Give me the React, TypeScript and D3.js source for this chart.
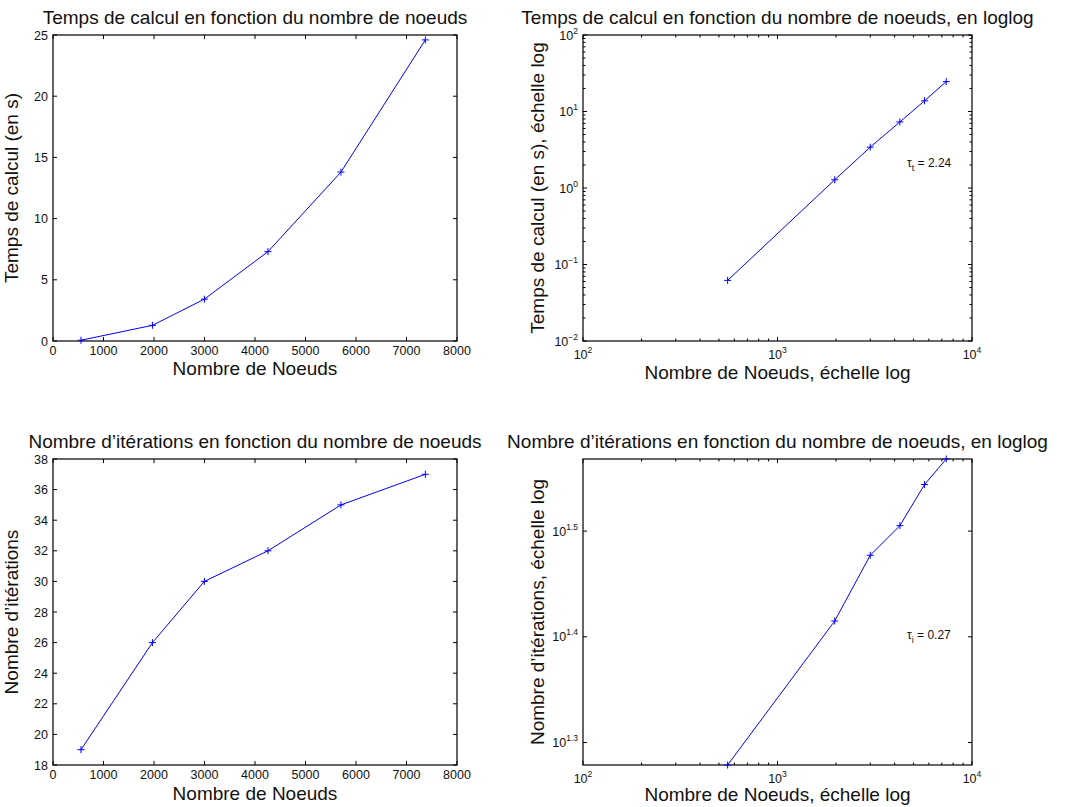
import * as d3 from 'd3';
import type { ReactNode } from 'react';

const nodes = [554, 1969, 2998, 4257, 5702, 7373];
const computeTimes = [0.062, 1.28, 3.42, 7.3, 13.8, 24.6];
const iterationCounts = [19, 26, 30, 32, 35, 37];

const nodeTicks = [0, 1000, 2000, 3000, 4000, 5000, 6000, 7000, 8000];
const timeTicks = [0, 5, 10, 15, 20, 25];
const iterationTicks = [18, 20, 22, 24, 26, 28, 30, 32, 34, 36, 38];
const nodeLogExponents = [2, 3, 4];
const timeLogExponents = [-2, -1, 0, 1, 2];
const iterationLogExponents = [1.3, 1.4, 1.5];

const timeSlope = '2.24';
const iterationSlope = '0.27';

const FONT = '"Liberation Sans", Arial, Helvetica, sans-serif';
const BLUE = '#0000ff';

type Frame = { left: number; right: number; top: number; bottom: number };
type Scale = (v: number) => number;
type Tick = { value: number; label: ReactNode };

type PanelProps = {
  frame: Frame;
  x: Scale;
  y: Scale;
  xTicks: Tick[];
  yTicks: Tick[];
  xMinor?: number[];
  yMinor?: number[];
  xLabelOffset: number;
  title: string;
  xLabel: string;
  xLabelBaseline: number;
  yLabel: string;
  yLabelX: number;
  values: number[];
  note?: { x: number; y: number; sub: string; text: string };
};

function expLabel(exp: number) {
  const txt = exp < 0 ? `\u2212${Math.abs(exp)}` : `${exp}`;
  return (
    <>
      10
      <tspan dy={-6} fontSize={8.5}>
        {txt}
      </tspan>
    </>
  );
}

function Panel(props: PanelProps) {
  const { frame, x, y, xTicks, yTicks, xMinor = [], yMinor = [], values } = props;
  const major = 4;
  const minor = 2.5;
  const pts = nodes.map((n, i) => [x(n), y(values[i])] as [number, number]);
  const line = d3.line<[number, number]>()(pts) ?? '';
  const cx = (frame.left + frame.right) / 2;
  const cy = (frame.top + frame.bottom) / 2;

  const tickPath = [
    ...xTicks.map((t) => {
      const px = x(t.value);
      return `M${px},${frame.bottom}v${-major}M${px},${frame.top}v${major}`;
    }),
    ...xMinor.map((v) => {
      const px = x(v);
      return `M${px},${frame.bottom}v${-minor}M${px},${frame.top}v${minor}`;
    }),
    ...yTicks.map((t) => {
      const py = y(t.value);
      return `M${frame.left},${py}h${major}M${frame.right},${py}h${-major}`;
    }),
    ...yMinor.map((v) => {
      const py = y(v);
      return `M${frame.left},${py}h${minor}M${frame.right},${py}h${-minor}`;
    }),
  ].join('');

  return (
    <g fontFamily={FONT}>
      <rect
        x={frame.left}
        y={frame.top}
        width={frame.right - frame.left}
        height={frame.bottom - frame.top}
        fill="#fff"
      />
      <path d={tickPath} stroke="#000" strokeWidth={1} fill="none" />
      <rect
        x={frame.left}
        y={frame.top}
        width={frame.right - frame.left}
        height={frame.bottom - frame.top}
        fill="none"
        stroke="#000"
        strokeWidth={1.2}
      />
      {xTicks.map((t, i) => (
        <text
          key={`xt${i}`}
          x={x(t.value)}
          y={frame.bottom + props.xLabelOffset}
          fontSize={12.5}
          textAnchor="middle"
          fill="#111"
        >
          {t.label}
        </text>
      ))}
      {yTicks.map((t, i) => (
        <text
          key={`yt${i}`}
          x={frame.left - 5}
          y={y(t.value)}
          dy="0.36em"
          fontSize={12.5}
          textAnchor="end"
          fill="#111"
        >
          {t.label}
        </text>
      ))}
      <path d={line} fill="none" stroke={BLUE} strokeWidth={1} />
      {pts.map(([px, py], i) => (
        <path key={`m${i}`} d={`M${px - 3.5},${py}h7M${px},${py - 3.5}v7`} stroke={BLUE} strokeWidth={1} />
      ))}
      <text x={cx} y={frame.top - 11} fontSize={19} textAnchor="middle" fill="#111">
        {props.title}
      </text>
      <text x={cx} y={props.xLabelBaseline} fontSize={19} textAnchor="middle" fill="#111">
        {props.xLabel}
      </text>
      <text
        transform={`translate(${props.yLabelX},${cy}) rotate(-90)`}
        fontSize={19}
        textAnchor="middle"
        fill="#111"
      >
        {props.yLabel}
      </text>
      {props.note && (
        <text x={props.note.x} y={props.note.y} fontSize={12} fill="#111">
          τ
          <tspan dy={3.5} fontSize={9}>
            {props.note.sub}
          </tspan>
          <tspan dy={-3.5}>{` = ${props.note.text}`}</tspan>
        </text>
      )}
    </g>
  );
}

function minorTicks(scale: d3.ScaleLogarithmic<number, number>) {
  return scale.ticks().filter((v) => Math.abs(Math.log10(v) - Math.round(Math.log10(v))) > 1e-6);
}

export default function App() {
  const f1: Frame = { left: 53, right: 457, top: 35, bottom: 341 };
  const f2: Frame = { left: 583, right: 972, top: 35, bottom: 341 };
  const f3: Frame = { left: 53, right: 457, top: 459, bottom: 765 };
  const f4: Frame = { left: 583, right: 972, top: 459, bottom: 765 };

  const x1 = d3.scaleLinear().domain([0, 8000]).range([f1.left, f1.right]);
  const y1 = d3.scaleLinear().domain([0, 25]).range([f1.bottom, f1.top]);
  const x2 = d3.scaleLog().domain([100, 10000]).range([f2.left, f2.right]);
  const y2 = d3.scaleLog().domain([0.01, 100]).range([f2.bottom, f2.top]);
  const x3 = d3.scaleLinear().domain([0, 8000]).range([f3.left, f3.right]);
  const y3 = d3.scaleLinear().domain([18, 38]).range([f3.bottom, f3.top]);
  const x4 = d3.scaleLog().domain([100, 10000]).range([f4.left, f4.right]);
  const y4 = d3
    .scaleLog()
    .domain([d3.min(iterationCounts) ?? 19, d3.max(iterationCounts) ?? 37])
    .range([f4.bottom, f4.top]);

  const linX = nodeTicks.map((v) => ({ value: v, label: `${v}` }));
  const logX = nodeLogExponents.map((e) => ({ value: Math.pow(10, e), label: expLabel(e) }));

  return (
    <svg
      width={1065}
      height={807}
      style={{ position: 'absolute', left: 0, top: 0, background: '#fff' }}
    >
      <rect width={1065} height={807} fill="#fff" />
      <Panel
        frame={f1}
        x={x1}
        y={y1}
        xTicks={linX}
        yTicks={timeTicks.map((v) => ({ value: v, label: `${v}` }))}
        xLabelOffset={14}
        title="Temps de calcul en fonction du nombre de noeuds"
        xLabel="Nombre de Noeuds"
        xLabelBaseline={375}
        yLabel="Temps de calcul (en s)"
        yLabelX={17.5}
        values={computeTimes}
      />
      <Panel
        frame={f2}
        x={x2}
        y={y2}
        xTicks={logX}
        yTicks={timeLogExponents.map((e) => ({ value: Math.pow(10, e), label: expLabel(e) }))}
        xMinor={minorTicks(x2)}
        yMinor={minorTicks(y2)}
        xLabelOffset={18}
        title="Temps de calcul en fonction du nombre de noeuds, en loglog"
        xLabel="Nombre de Noeuds, échelle log"
        xLabelBaseline={379}
        yLabel="Temps de calcul (en s), échelle log"
        yLabelX={544}
        values={computeTimes}
        note={{ x: 907, y: 167, sub: 't', text: timeSlope }}
      />
      <Panel
        frame={f3}
        x={x3}
        y={y3}
        xTicks={nodeTicks.map((v) => ({ value: v, label: `${v}` }))}
        yTicks={iterationTicks.map((v) => ({ value: v, label: `${v}` }))}
        xLabelOffset={14}
        title="Nombre d’itérations en fonction du nombre de noeuds"
        xLabel="Nombre de Noeuds"
        xLabelBaseline={800}
        yLabel="Nombre d’itérations"
        yLabelX={17.5}
        values={iterationCounts}
      />
      <Panel
        frame={f4}
        x={x4}
        y={y4}
        xTicks={nodeLogExponents.map((e) => ({ value: Math.pow(10, e), label: expLabel(e) }))}
        yTicks={iterationLogExponents.map((e) => ({ value: Math.pow(10, e), label: expLabel(e) }))}
        xMinor={minorTicks(x4)}
        xLabelOffset={18}
        title="Nombre d’itérations en fonction du nombre de noeuds, en loglog"
        xLabel="Nombre de Noeuds, échelle log"
        xLabelBaseline={801}
        yLabel="Nombre d’itérations, échelle log"
        yLabelX={544}
        values={iterationCounts}
        note={{ x: 907, y: 639, sub: 'i', text: iterationSlope }}
      />
    </svg>
  );
}
